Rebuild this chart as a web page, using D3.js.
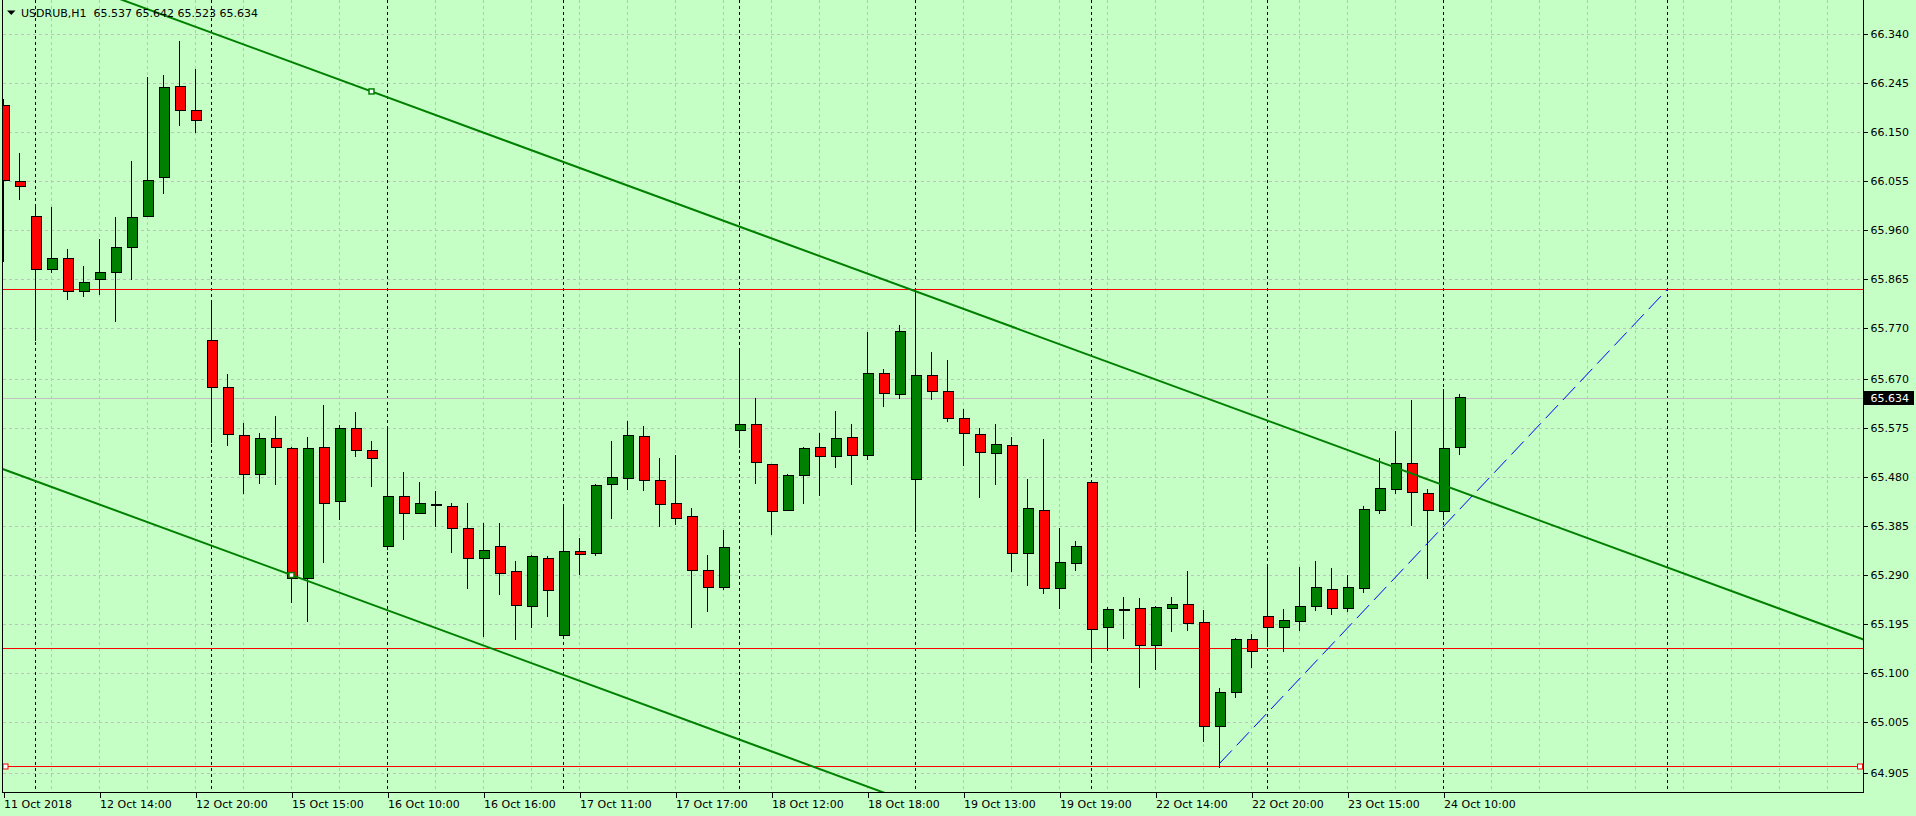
<!DOCTYPE html>
<html>
<head>
<meta charset="utf-8">
<title>USDRUB,H1</title>
<script src="https://d3js.org/d3.v7.min.js"></script>
<style>
  body { margin: 0; background: #c6ffc6; }
  svg { display: block; }
  text { font-family: "DejaVu Sans", sans-serif; font-size: 11px; fill: #000; }
  .grid line { stroke: #c0c0c0; stroke-width: 1px; stroke-dasharray: 3,3; shape-rendering: crispEdges; }
  .sep line { stroke: #000; stroke-width: 1px; stroke-dasharray: 3,3; shape-rendering: crispEdges; }
  .axis .domain { display: none; }
  .axis .tick line { stroke: #000; shape-rendering: crispEdges; }
  .candle line, .candle rect { shape-rendering: crispEdges; }
</style>
</head>
<body>
<svg width="1916" height="816"></svg>
<script>
// bar data, USDRUB H1, one entry per hourly bar (index 0 = leftmost)
const opens = [66.202, 66.055, 65.987, 65.883, 65.905, 65.841, 65.864, 65.878, 65.926, 65.987,
  66.062, 66.239, 66.192, 65.746, 65.655, 65.561, 65.486, 65.556, 65.536, 65.284,
  65.538, 65.433, 65.575, 65.532, 65.346, 65.443, 65.410, 65.426, 65.423, 65.381,
  65.323, 65.346, 65.297, 65.229, 65.323, 65.173, 65.336, 65.332, 65.466, 65.478,
  65.559, 65.474, 65.429, 65.404, 65.299, 65.266, 65.571, 65.583, 65.505, 65.416,
  65.484, 65.538, 65.521, 65.557, 65.523, 65.682, 65.641, 65.476, 65.678, 65.647,
  65.594, 65.563, 65.526, 65.542, 65.332, 65.416, 65.264, 65.313, 65.470, 65.189,
  65.224, 65.225, 65.153, 65.225, 65.233, 65.198, 64.996, 65.062, 65.165, 65.210,
  65.189, 65.200, 65.229, 65.262, 65.225, 65.264, 65.416, 65.456, 65.507, 65.449,
  65.414, 65.537];
const highs = [66.214, 66.110, 66.008, 66.005, 65.923, 65.890, 65.943, 65.985, 66.094, 66.257,
  66.261, 66.327, 66.273, 65.820, 65.680, 65.585, 65.566, 65.599, 65.538, 65.558,
  65.620, 65.581, 65.606, 65.550, 65.575, 65.490, 65.470, 65.453, 65.429, 65.430,
  65.392, 65.391, 65.317, 65.328, 65.326, 65.425, 65.362, 65.466, 65.550, 65.589,
  65.579, 65.517, 65.524, 65.420, 65.328, 65.377, 65.726, 65.633, 65.505, 65.486,
  65.538, 65.565, 65.609, 65.583, 65.762, 65.691, 65.775, 65.843, 65.723, 65.707,
  65.612, 65.575, 65.583, 65.558, 65.476, 65.554, 65.381, 65.357, 65.473, 65.227,
  65.247, 65.245, 65.230, 65.247, 65.297, 65.222, 65.070, 65.167, 65.176, 65.311,
  65.224, 65.305, 65.317, 65.303, 65.291, 65.425, 65.517, 65.569, 65.629, 65.458,
  65.651, 65.642];
const lows = [65.898, 66.019, 65.745, 65.877, 65.825, 65.829, 65.834, 65.782, 65.863, 65.985,
  66.029, 66.161, 66.149, 65.547, 65.541, 65.448, 65.467, 65.465, 65.236, 65.198,
  65.314, 65.397, 65.519, 65.460, 65.339, 65.359, 65.409, 65.384, 65.333, 65.263,
  65.170, 65.252, 65.163, 65.188, 65.209, 65.172, 65.290, 65.326, 65.399, 65.456,
  65.454, 65.384, 65.388, 65.188, 65.218, 65.260, 65.536, 65.466, 65.368, 65.414,
  65.427, 65.444, 65.498, 65.465, 65.513, 65.617, 65.631, 65.373, 65.629, 65.587,
  65.502, 65.440, 65.465, 65.295, 65.269, 65.254, 65.224, 65.297, 65.124, 65.143,
  65.165, 65.071, 65.106, 65.180, 65.182, 64.965, 64.915, 65.051, 65.109, 65.150,
  65.140, 65.181, 65.220, 65.212, 65.218, 65.255, 65.408, 65.447, 65.385, 65.282,
  65.396, 65.523];
const closes = [66.057, 66.045, 65.883, 65.905, 65.841, 65.858, 65.878, 65.926, 65.985, 66.057,
  66.237, 66.192, 66.173, 65.655, 65.563, 65.486, 65.556, 65.538, 65.284, 65.536,
  65.429, 65.575, 65.532, 65.517, 65.443, 65.410, 65.429, 65.426, 65.381, 65.323,
  65.338, 65.293, 65.231, 65.326, 65.260, 65.336, 65.330, 65.464, 65.480, 65.561,
  65.474, 65.427, 65.400, 65.299, 65.266, 65.344, 65.583, 65.509, 65.414, 65.484,
  65.536, 65.521, 65.556, 65.523, 65.682, 65.643, 65.763, 65.678, 65.647, 65.594,
  65.565, 65.528, 65.544, 65.332, 65.420, 65.264, 65.315, 65.346, 65.185, 65.224,
  65.224, 65.153, 65.227, 65.233, 65.196, 64.996, 65.062, 65.165, 65.142, 65.189,
  65.202, 65.229, 65.266, 65.225, 65.266, 65.418, 65.458, 65.507, 65.451, 65.416,
  65.536, 65.634];

// time axis: bar index of each label
const xTickIndex = [0, 6, 12, 18, 24, 30, 36, 42, 48, 54, 60, 66, 72, 78, 84, 90];
const xTickLabels = ["11 Oct 2018", "12 Oct 14:00", "12 Oct 20:00", "15 Oct 15:00", "16 Oct 10:00",
  "16 Oct 16:00", "17 Oct 11:00", "17 Oct 17:00", "18 Oct 12:00", "18 Oct 18:00", "19 Oct 13:00",
  "19 Oct 19:00", "22 Oct 14:00", "22 Oct 20:00", "23 Oct 15:00", "24 Oct 10:00"];
const yTickValues = [66.340, 66.245, 66.150, 66.055, 65.960, 65.865, 65.770, 65.670,
  65.575, 65.480, 65.385, 65.290, 65.195, 65.100, 65.005, 64.905];

// day separators (bar index), drawn objects
const separatorIndex = [2, 13, 24, 35, 46, 57, 68, 79, 90, 104];
const levelPrices = [65.845, 65.149, 64.920];
const channelUpper = [[23, 66.229], [57, 65.841]];
const channelLower = [[18, 65.290], [52, 64.902]];
const supportLine = [[76, 64.924], [104, 65.845]];
const bidPrice = 65.634;

const bars = opens.map((o, i) => ({ i, o, h: highs[i], l: lows[i], c: closes[i] }));

const svg = d3.select("svg");
const svgWidth = +svg.attr("width");
const plotLeft = 2.5, plotRight = 1863.5, plotBottom = 792.5;

svg.append("rect").attr("width", svgWidth).attr("height", 816).attr("fill", "#c6ffc6");

const x = d3.scaleLinear().domain([0, 91]).range([3.5, 1459.5]);
const y = d3.scaleLinear().domain([64.8687, 66.4066]).range([792, 0]);

svg.append("defs").append("clipPath").attr("id", "plot")
  .append("rect").attr("x", 3).attr("y", 0).attr("width", plotRight - 3).attr("height", 792);

// grid
const grid = svg.append("g").attr("class", "grid");
grid.selectAll(".h").data(yTickValues).enter().append("line")
  .attr("x1", plotLeft).attr("x2", plotRight)
  .attr("y1", d => Math.round(y(d)) + 0.5).attr("y2", d => Math.round(y(d)) + 0.5);
grid.selectAll(".v").data(d3.range(3, 117, 3)).enter().append("line")
  .attr("x1", d => x(d)).attr("x2", d => x(d))
  .attr("y1", 0).attr("y2", plotBottom);

svg.append("g").attr("class", "sep")
  .selectAll("line").data(separatorIndex).enter().append("line")
  .attr("x1", d => x(d)).attr("x2", d => x(d))
  .attr("y1", 0).attr("y2", plotBottom);

// bid line
svg.append("line")
  .attr("x1", plotLeft).attr("x2", plotRight)
  .attr("y1", Math.round(y(bidPrice)) + 0.5).attr("y2", Math.round(y(bidPrice)) + 0.5)
  .attr("stroke", "#c0c0c0").attr("shape-rendering", "crispEdges");

// horizontal levels
svg.append("g").selectAll("line").data(levelPrices).enter().append("line")
  .attr("x1", plotLeft).attr("x2", plotRight)
  .attr("y1", d => Math.round(y(d)) + 0.5).attr("y2", d => Math.round(y(d)) + 0.5)
  .attr("stroke", "#ff0000").attr("shape-rendering", "crispEdges");

// candles
const candles = svg.append("g").attr("class", "candle").attr("clip-path", "url(#plot)")
  .selectAll("g").data(bars).enter().append("g");
candles.append("line")
  .attr("x1", d => x(d.i)).attr("x2", d => x(d.i))
  .attr("y1", d => y(d.h)).attr("y2", d => y(d.l))
  .attr("stroke", "#000");
candles.append("rect")
  .attr("x", d => x(d.i) - 4.5)
  .attr("width", 10)
  .attr("y", d => y(Math.max(d.o, d.c)))
  .attr("height", d => Math.max(1, Math.abs(y(d.o) - y(d.c))))
  .attr("fill", d => d.c > d.o ? "#008000" : d.c < d.o ? "#ff0000" : "#000")
  .attr("stroke", "#000");

// trend channel
const lineLayer = svg.append("g").attr("clip-path", "url(#plot)");
function extended(pts) {
  const [a, b] = pts;
  const slope = (b[1] - a[1]) / (b[0] - a[0]);
  const k0 = x.invert(0), k1 = x.invert(plotRight);
  return [[k0, a[1] + slope * (k0 - a[0])], [k1, a[1] + slope * (k1 - a[0])]];
}
const path = d3.line().x(d => x(d[0])).y(d => y(d[1]));
[channelUpper, channelLower].forEach(pts => {
  lineLayer.append("path").attr("d", path(extended(pts)))
    .attr("fill", "none").attr("stroke", "#008000").attr("stroke-width", 2);
});
lineLayer.append("path").attr("d", path(supportLine))
  .attr("fill", "none").attr("stroke", "#0000ff").attr("stroke-width", 1)
  .attr("stroke-dasharray", "18,7");

// anchor markers
const markers = [channelUpper[0], channelLower[0]];
lineLayer.selectAll(".m").data(markers).enter().append("rect")
  .attr("x", d => x(d[0]) - 2.5).attr("y", d => y(d[1]) - 2.5)
  .attr("width", 5).attr("height", 5)
  .attr("fill", "#fff").attr("stroke", "#008000").attr("stroke-width", 1.5);
svg.selectAll(".lm").data([5.5, plotRight - 3.5]).enter().append("rect")
  .attr("x", d => d - 2.5).attr("y", Math.round(y(levelPrices[2])) - 2)
  .attr("width", 5).attr("height", 5)
  .attr("fill", "#fff").attr("stroke", "#ff0000");

// frame
svg.append("path")
  .attr("d", `M${plotLeft},0V${plotBottom}H${plotRight}V0`)
  .attr("fill", "none").attr("stroke", "#000").attr("shape-rendering", "crispEdges");

// axes
const yAxis = svg.append("g").attr("class", "axis")
  .attr("transform", `translate(${plotRight},0)`)
  .call(d3.axisRight(y).tickValues(yTickValues).tickFormat(d3.format(".3f")).tickSize(4).tickPadding(3));
yAxis.attr("font-family", null).attr("font-size", null);

const xAxis = svg.append("g").attr("class", "axis")
  .attr("transform", `translate(0,${plotBottom})`)
  .call(d3.axisBottom(x).tickValues(xTickIndex).tickFormat((d, i) => xTickLabels[i]).tickSize(5).tickPadding(3));
xAxis.attr("font-family", null).attr("font-size", null);
xAxis.selectAll("text").attr("text-anchor", "start").attr("x", 0);

// bid price tag
const tagY = y(bidPrice);
svg.append("rect").attr("x", plotRight + 0.5).attr("y", Math.round(tagY) - 7)
  .attr("width", 50).attr("height", 14).attr("fill", "#000");
svg.append("text").attr("x", plotRight + 7).attr("y", tagY).attr("dy", "0.35em")
  .style("fill", "#fff").text(d3.format(".3f")(bidPrice));

// header
const fmt = d3.format(".3f");
svg.append("path").attr("d", "M7,10.5H15.5L11.25,15Z").attr("fill", "#000");
svg.append("text").attr("x", 21).attr("y", 17)
  .attr("xml:space", "preserve").style("white-space", "pre")
  .text(`USDRUB,H1  ${fmt(opens[91])} ${fmt(highs[91])} ${fmt(lows[91])} ${fmt(closes[91])}`);
</script>
</body>
</html>
